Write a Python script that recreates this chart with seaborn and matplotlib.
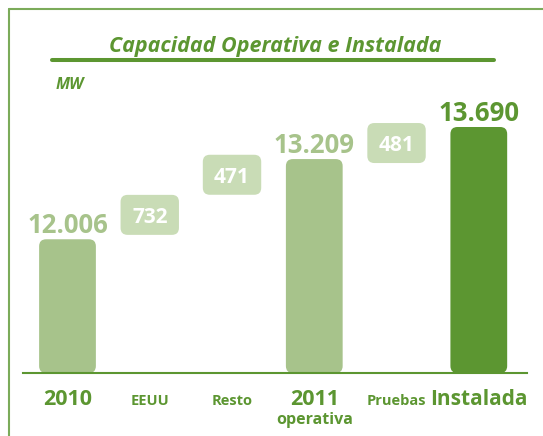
import numpy as np
import pandas as pd
import seaborn as sns
import matplotlib.pyplot as plt
from matplotlib.patches import FancyBboxPatch
from matplotlib.lines import Line2D

# data
categories = ["2010", "EEUU", "Resto", "2011", "Pruebas", "Instalada"]
sublabels = ["", "", "", "operativa", "", ""]
values = [12006, 732, 471, 13209, 481, 13690]
is_total = [True, False, False, True, False, True]
value_text = ["12.006", "732", "471", "13.209", "481", "13.690"]
label_sizes = [15.5, 10.5, 10.5, 15.5, 10.5, 15]

title = "Capacidad Operativa e Instalada"
unit = "MW"

DARK = "#5c9631"
LIGHT = "#a7c38b"
PALE = "#c9dcb6"
FRAME = "#7bab5a"

y_floor = 10000
y_top = 14095
x_lim = (-0.547, 5.586)

sns.set_theme(style="white")
plt.rcParams["font.family"] = ["Open Sans", "DejaVu Sans"]

W, H = 543, 436
fig = plt.figure(figsize=(W / 100, H / 100), dpi=100)
fig.patch.set_facecolor("white")
ax = fig.add_axes([22.5 / W, 63 / H, 504.5 / W, 273 / H])

tot = pd.DataFrame({
    "cat": [c for c, t in zip(categories, is_total) if t],
    "val": [v for v, t in zip(values, is_total) if t],
})
sns.barplot(data=tot, x="cat", y="val", order=categories, color=LIGHT,
            errorbar=None, ax=ax)
ax.set_xlim(*x_lim)
ax.set_ylim(y_floor, y_top)

# pixel scales, used to keep rounded corners round
px_x = ax.bbox.width / (x_lim[1] - x_lim[0])
px_y = ax.bbox.height / (y_top - y_floor)
aspect = px_x / px_y
rad = 7 / px_x


def rounded(x, bottom, w, h, color):
    p = FancyBboxPatch((x - w / 2, bottom), w, h,
                       boxstyle=f"round,pad=0,rounding_size={rad}",
                       mutation_aspect=aspect, fc=color, ec="none", zorder=2)
    ax.add_patch(p)


# swap seaborn's square bars for rounded ones
for p in list(ax.patches):
    i = int(round(p.get_x() + p.get_width() / 2))
    p.remove()
    color = DARK if categories[i] == "Instalada" else LIGHT
    rounded(i, y_floor, 0.69, values[i] - y_floor, color)
    ax.annotate(value_text[i], (i, values[i]), xytext=(0, 4.3),
                textcoords="offset points", ha="center", va="baseline",
                fontsize=18.5, fontweight="bold", color=color)

# floating step boxes
running = 0
for i, (v, t) in enumerate(zip(values, is_total)):
    if t:
        running = v
        continue
    mid = running + v / 2
    box_h = 40 / px_y
    rounded(i, mid - box_h / 2, 0.71, box_h, PALE)
    ax.text(i, mid, value_text[i], ha="center", va="center_baseline",
            color="white", fontsize=15, fontweight="bold", zorder=3)
    running += v

# category labels
for i, (cat, sub) in enumerate(zip(categories, sublabels)):
    ax.annotate(cat, (i, y_floor), xytext=(0, -23), textcoords="offset points",
                ha="center", va="baseline", fontsize=label_sizes[i],
                fontweight="bold", color=DARK, annotation_clip=False)
    if sub:
        ax.annotate(sub, (i, y_floor), xytext=(0, -36.4), textcoords="offset points",
                    ha="center", va="baseline", fontsize=11.5,
                    fontweight="bold", color=DARK, annotation_clip=False)

ax.set_xticks([])
ax.set_yticks([])
ax.set_xlabel("")
ax.set_ylabel("")
for s in ["left", "right", "top"]:
    ax.spines[s].set_visible(False)
ax.spines["bottom"].set_color(DARK)
ax.spines["bottom"].set_linewidth(1.5)
ax.spines["bottom"].set_zorder(4)
ax.set_facecolor("none")

# frame, title, underline, unit
fig.add_artist(Line2D([8.7 / W, 1], [1 - 8.7 / H] * 2, transform=fig.transFigure,
                      color=FRAME, lw=1.5))
fig.add_artist(Line2D([8.7 / W] * 2, [0, 1 - 8.7 / H], transform=fig.transFigure,
                      color=FRAME, lw=1.5))
fig.text(275.5 / W, 1 - 52 / H, title, ha="center", va="baseline", fontsize=15.5,
         fontweight="bold", fontstyle="italic", color=DARK)
fig.add_artist(Line2D([52 / W, 494 / W], [1 - 60 / H] * 2, transform=fig.transFigure,
                      color=DARK, lw=2.9))
fig.text(56 / W, 1 - 89 / H, unit, ha="left", va="baseline", fontsize=11.5,
         fontweight="bold", fontstyle="italic", color=DARK)

fig.savefig("out.png", dpi=100)
